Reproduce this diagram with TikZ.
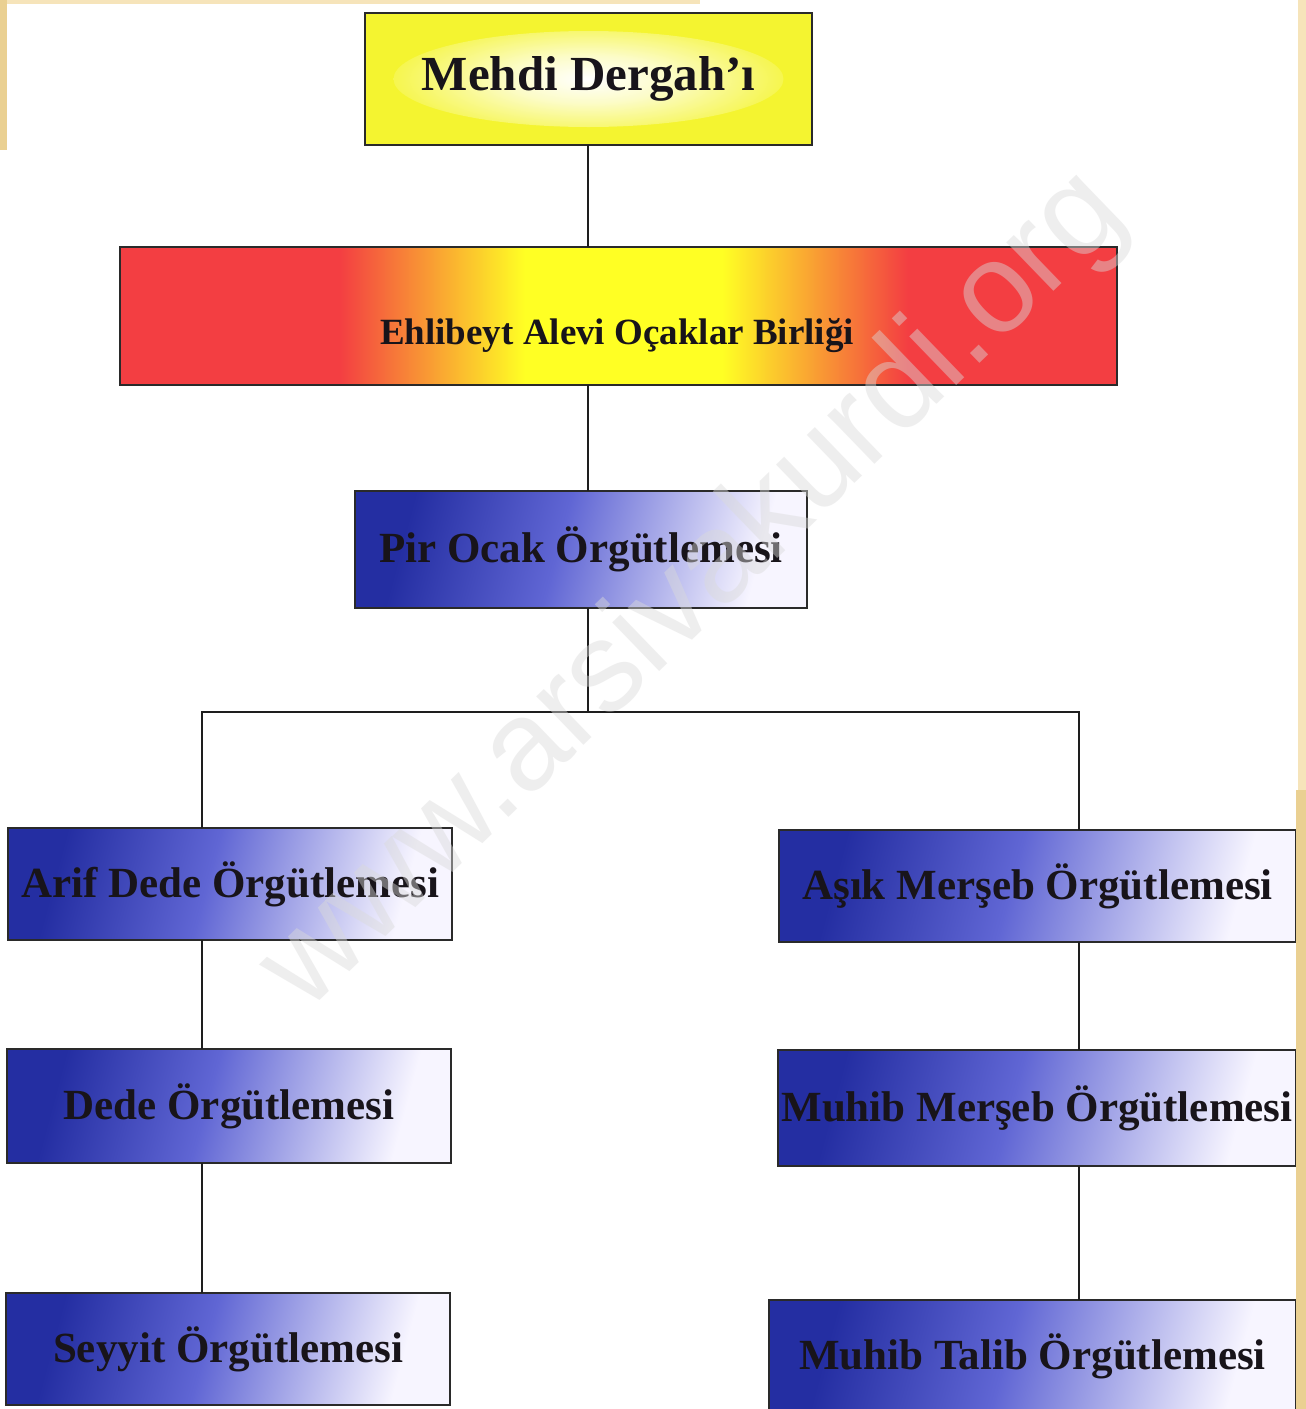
\documentclass[tikz,border=0pt]{standalone}
\usepackage{fontspec}
\setmainfont{Liberation Serif}
\newfontfamily\wmfont{Liberation Sans}
\definecolor{redC}{RGB}{243,62,66}
\definecolor{yelC}{RGB}{255,255,36}
\definecolor{boxYel}{RGB}{244,244,48}
\definecolor{glowC}{RGB}{252,252,200}
\definecolor{bD}{RGB}{36,46,162}
\definecolor{bM}{RGB}{96,102,212}
\definecolor{bL}{RGB}{247,245,255}
\definecolor{borderC}{RGB}{42,42,42}
\definecolor{lineC}{RGB}{30,30,30}
\definecolor{textC}{RGB}{24,20,26}
\definecolor{beige}{RGB}{234,208,146}
\definecolor{beigeL}{RGB}{246,228,186}
\definecolor{wmC}{RGB}{218,218,218}
\pgfdeclarehorizontalshading{ryshade}{100bp}{color(0bp)=(redC); color(36bp)=(redC); color(45.3bp)=(yelC); color(55.2bp)=(yelC); color(64.5bp)=(redC); color(100bp)=(redC)}
\pgfdeclarehorizontalshading{blueshade}{100bp}{color(0bp)=(bD); color(27bp)=(bD); color(47bp)=(bM); color(73bp)=(bL); color(100bp)=(bL)}
\pgfdeclareradialshading{glowshade}{\pgfpoint{0bp}{0bp}}{color(0bp)=(white); color(9bp)=(glowC); color(25bp)=(boxYel); color(50bp)=(boxYel)}
\begin{document}
\begin{tikzpicture}[x=1pt,y=-1pt,
  box/.style={draw=borderC, line width=2.5pt, rectangle, inner sep=0pt, outer sep=0pt, text=textC},
  bluebox/.style={box, shade, shading=blueshade, shading angle=-15, font=\fontsize{43}{50}\selectfont\bfseries},
  yelbox/.style={box, fill=boxYel, font=\fontsize{49}{56}\selectfont\bfseries,
    path picture={\shade[shading=glowshade] (path picture bounding box.center) ellipse (195pt and 48pt);}},
  rybox/.style={box, shade, shading=ryshade},
  txt/.style={inner sep=0pt, text=textC},
  conn/.style={draw=lineC, line width=1.6pt}]
\useasboundingbox (0,0) rectangle (1306,1409);
\clip (0,0) rectangle (1306,1409);
\fill[white] (0,0) rectangle (1306,1409);
% junction coordinates
\coordinate (jL) at (202,712);
\coordinate (jM) at (588,712);
\coordinate (jR) at (1079,712);
% boxes
\node[yelbox, minimum width=447pt, minimum height=132pt] (mehdi) at (588.5,79) {Mehdi Dergah'ı};
\node[rybox, minimum width=997pt, minimum height=138pt] (ehl) at (618.5,316) {};
\node[txt, font=\fontsize{37}{44}\selectfont\bfseries] (ehlT) at (617,336) {Ehlibeyt Alevi Oçaklar Birliği};
\node[bluebox, minimum width=452pt, minimum height=117pt] (pir) at (581,549.5) {Pir Ocak Örgütlemesi};
\node[bluebox, minimum width=444pt, minimum height=112pt] (arif) at (230,884) {Arif Dede Örgütlemesi};
\node[bluebox, minimum width=517pt, minimum height=112pt] (asik) at (1037.5,886) {Aşık Merşeb Örgütlemesi};
\node[bluebox, minimum width=444pt, minimum height=114pt] (dede) at (229,1106) {Dede Örgütlemesi};
\node[bluebox, minimum width=518pt, minimum height=116pt] (muhM) at (1037,1108) {Muhib Merşeb Örgütlemesi};
\node[bluebox, minimum width=444pt, minimum height=112pt] (seyyit) at (228,1349) {Seyyit Örgütlemesi};
\node[bluebox, minimum width=527pt, minimum height=112pt] (muhT) at (1032.5,1356) {Muhib Talib Örgütlemesi};
% connectors
\draw[conn] (mehdi.south -| jM) -- (ehl.north -| jM);
\draw[conn] (ehl.south -| jM) -- (pir.north -| jM);
\draw[conn] (pir.south -| jM) -- (jM);
\draw[conn] (arif.north -| jL) -- (jL) -- (jR) -- (asik.north -| jR);
\draw[conn] (arif.south -| jL) -- (dede.north -| jL);
\draw[conn] (dede.south -| jL) -- (seyyit.north -| jL);
\draw[conn] (asik.south -| jR) -- (muhM.north -| jR);
\draw[conn] (muhM.south -| jR) -- (muhT.north -| jR);
% paper edges
\fill[beige] (1296,790) rectangle (1306,1409);
\fill[beigeL] (1298,0) rectangle (1306,790);
\fill[beigeL] (0,0) rectangle (700,4);
\fill[beige] (0,0) rectangle (7,150);
% watermark
\node[txt, text=wmC, text opacity=0.45, rotate=44, font=\wmfont\fontsize{128}{140}\selectfont] (wm) at (695,592) {www.arsivakurdi.org};
\end{tikzpicture}
\end{document}
